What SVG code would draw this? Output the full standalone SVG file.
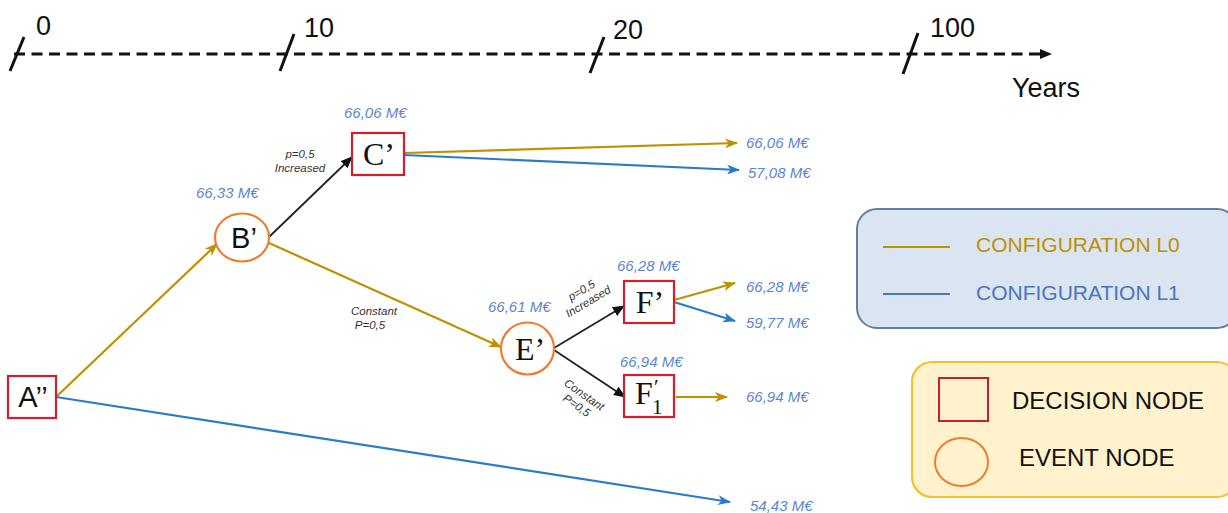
<svg xmlns="http://www.w3.org/2000/svg" width="1228" height="513" viewBox="0 0 1228 513">
  <style>
    .axis { stroke: #111; stroke-width: 3; fill: none; }
    .tick { stroke: #111; stroke-width: 3; }
    .axlbl { font-family: "Liberation Sans", Arial, sans-serif; font-size: 27px; fill: #111; }
    .gold { stroke: #BF9000; stroke-width: 2.2; fill: none; }
    .blue { stroke: #2A7CC7; stroke-width: 2.2; fill: none; }
    .black { stroke: #222; stroke-width: 1.8; fill: none; }
    .dec { fill: #fff; stroke: #D0202A; stroke-width: 2.2; }
    .evt { fill: #fff; stroke: #ED7D31; stroke-width: 2.2; }
    .nsans { font-family: "Liberation Sans", Arial, sans-serif; font-size: 29px; fill: #111; text-anchor: middle; }
    .nserif { font-family: "Liberation Serif", "Times New Roman", serif; font-size: 32px; fill: #111; text-anchor: middle; }
    .sub { font-family: "Liberation Serif", "Times New Roman", serif; font-size: 21px; fill: #111; }
    .val { font-family: "Liberation Sans", Arial, sans-serif; font-size: 15px; font-style: italic; fill: #5B86CF; }
    .prob { font-family: "Liberation Sans", Arial, sans-serif; font-size: 11.5px; font-style: italic; fill: #333; text-anchor: middle; }
    .leg { font-family: "Liberation Sans", Arial, sans-serif; }
  </style>
  <defs>
    <!-- notched arrowheads, one per line colour -->
    <marker id="ahGold" viewBox="0 0 13 10" refX="12" refY="5" markerWidth="13" markerHeight="10" markerUnits="userSpaceOnUse" orient="auto">
      <path d="M0,0 L13,5 L0,10 L3.5,5 Z" fill="#BF9000"/>
    </marker>
    <marker id="ahBlue" viewBox="0 0 13 10" refX="12" refY="5" markerWidth="13" markerHeight="10" markerUnits="userSpaceOnUse" orient="auto">
      <path d="M0,0 L13,5 L0,10 L3.5,5 Z" fill="#2A7CC7"/>
    </marker>
    <marker id="ahBlack" viewBox="0 0 12 10" refX="11" refY="5" markerWidth="12" markerHeight="10" markerUnits="userSpaceOnUse" orient="auto">
      <path d="M0,0 L12,5 L0,10 Z" fill="#111"/>
    </marker>
    <marker id="ahAxis" viewBox="0 0 12 10" refX="4" refY="5" markerWidth="12" markerHeight="10" markerUnits="userSpaceOnUse" orient="auto">
      <path d="M0,0 L12,5 L0,10 Z" fill="#111"/>
    </marker>
  </defs>

  <!-- time axis -->
  <g id="timeline">
    <line class="axis" x1="14" y1="54" x2="1044" y2="54" stroke-dasharray="11 6.5" marker-end="url(#ahAxis)"/>
    <line class="tick" x1="10" y1="71" x2="24" y2="37"/>
    <line class="tick" x1="280" y1="71" x2="294" y2="34"/>
    <line class="tick" x1="590" y1="73" x2="604" y2="37"/>
    <line class="tick" x1="903" y1="74" x2="918" y2="33"/>
    <text class="axlbl" x="36" y="35">0</text>
    <text class="axlbl" x="304" y="37">10</text>
    <text class="axlbl" x="613" y="39">20</text>
    <text class="axlbl" x="930" y="37">100</text>
    <text class="axlbl" x="1012" y="97">Years</text>
  </g>

  <!-- connectors -->
  <g id="connectors">
    <line class="gold" x1="56" y1="397" x2="217" y2="244" marker-end="url(#ahGold)"/>
    <line class="blue" x1="56" y1="397" x2="730" y2="502" marker-end="url(#ahBlue)"/>
    <line class="black" x1="269" y1="237" x2="352" y2="157" marker-end="url(#ahBlack)"/>
    <line class="gold" x1="269" y1="243" x2="501" y2="347" marker-end="url(#ahGold)"/>
    <line class="gold" x1="404" y1="153" x2="737" y2="143" marker-end="url(#ahGold)"/>
    <line class="blue" x1="404" y1="155" x2="739" y2="170" marker-end="url(#ahBlue)"/>
    <line class="black" x1="554" y1="348" x2="624" y2="306" marker-end="url(#ahBlack)"/>
    <line class="black" x1="554" y1="350" x2="625" y2="397" marker-end="url(#ahBlack)"/>
    <line class="gold" x1="674" y1="300" x2="735" y2="283" marker-end="url(#ahGold)"/>
    <line class="blue" x1="674" y1="302" x2="735" y2="321" marker-end="url(#ahBlue)"/>
    <line class="gold" x1="676" y1="397" x2="727" y2="397" marker-end="url(#ahGold)"/>

    <text class="prob" x="300" y="158">p=0,5</text>
    <text class="prob" x="300" y="172">Increased</text>
    <text class="prob" x="374" y="315">Constant</text>
    <text class="prob" x="370" y="329">P=0,5</text>
    <g transform="translate(586,298) rotate(-31)">
      <text class="prob" x="0" y="-5">p=0,5</text>
      <text class="prob" x="0" y="8">Increased</text>
    </g>
    <g transform="translate(582,398) rotate(35)">
      <text class="prob" x="0" y="0">Constant</text>
      <text class="prob" x="0" y="13">P=0,5</text>
    </g>

    <text class="val" x="746" y="148">66,06 M€</text>
    <text class="val" x="748" y="178">57,08 M€</text>
    <text class="val" x="746" y="292">66,28 M€</text>
    <text class="val" x="746" y="328">59,77 M€</text>
    <text class="val" x="746" y="402">66,94 M€</text>
    <text class="val" x="750" y="511">54,43 M€</text>
  </g>

  <!-- decision / event nodes -->
  <g id="nodeA">
    <rect class="dec" x="8" y="376" width="48" height="42"/>
    <text class="nsans" x="33" y="407">A’’</text>
  </g>
  <g id="nodeB">
    <ellipse class="evt" cx="242" cy="237.5" rx="27" ry="24"/>
    <text class="nsans" x="244" y="248">B’</text>
    <text class="val" x="196" y="198">66,33 M€</text>
  </g>
  <g id="nodeC">
    <rect class="dec" x="352" y="133" width="52" height="42"/>
    <text class="nserif" x="379" y="165">C’</text>
    <text class="val" x="344" y="118">66,06 M€</text>
  </g>
  <g id="nodeE">
    <ellipse class="evt" cx="527.5" cy="348.5" rx="26.5" ry="26"/>
    <text class="nserif" x="530" y="360">E’</text>
    <text class="val" x="488" y="312">66,61 M€</text>
  </g>
  <g id="nodeF">
    <rect class="dec" x="624" y="281" width="50" height="42"/>
    <text class="nserif" x="650" y="313">F’</text>
    <text class="val" x="617" y="271">66,28 M€</text>
  </g>
  <g id="nodeF1">
    <rect class="dec" x="624" y="375" width="50" height="42"/>
    <text class="nserif" x="644" y="404">F</text>
    <text class="sub" x="654" y="394">′</text>
    <text class="sub" x="652" y="414">1</text>
    <text class="val" x="620" y="367">66,94 M€</text>
  </g>

  <!-- legend: configurations -->
  <g id="legendConfig">
    <rect x="857" y="209" width="380" height="119" rx="20" fill="#DAE5F1" stroke="#5F80A3" stroke-width="2"/>
    <line x1="883" y1="247" x2="950" y2="247" stroke="#BF9000" stroke-width="2"/>
    <line x1="883" y1="294" x2="950" y2="294" stroke="#4A78C0" stroke-width="2"/>
    <text class="leg" x="976" y="252" font-size="21" fill="#BF9000">CONFIGURATION L0</text>
    <text class="leg" x="976" y="300" font-size="21" fill="#4A74C0">CONFIGURATION L1</text>
  </g>

  <!-- legend: node types -->
  <g id="legendNodes">
    <rect x="912" y="362" width="325" height="135" rx="20" fill="#FFF2CC" stroke="#F2C12E" stroke-width="2.2"/>
    <rect x="939" y="378" width="49" height="43" fill="none" stroke="#C8202A" stroke-width="2"/>
    <ellipse cx="961.5" cy="462" rx="26.5" ry="24" fill="none" stroke="#ED7D31" stroke-width="2"/>
    <text class="leg" x="1012" y="409" font-size="24" fill="#111">DECISION NODE</text>
    <text class="leg" x="1019" y="466" font-size="24" fill="#111">EVENT NODE</text>
  </g>
</svg>
